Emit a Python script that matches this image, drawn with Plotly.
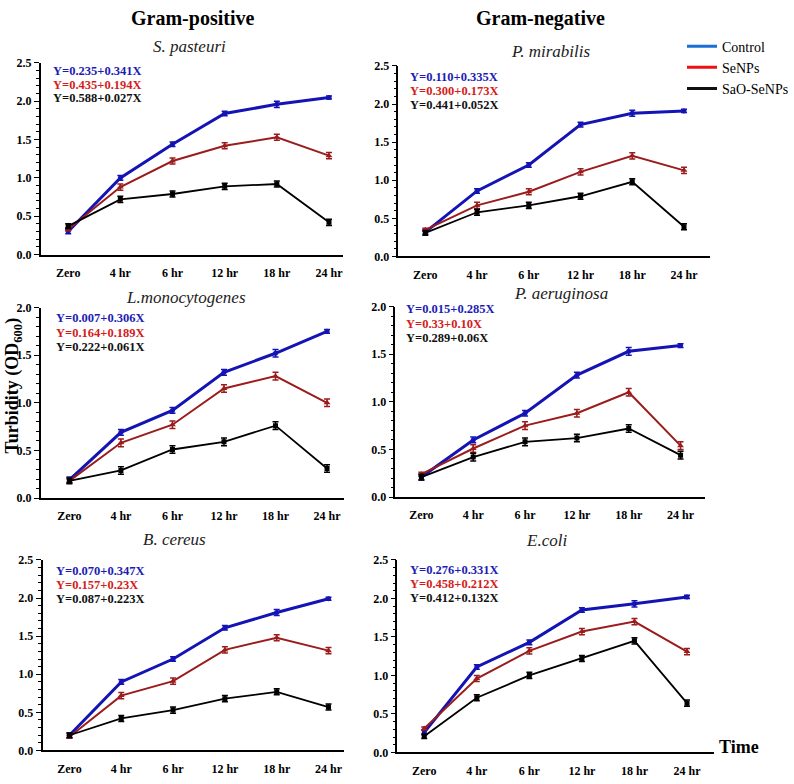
import plotly.graph_objects as go

W, H = 794, 784
FONT = "Liberation Serif"

time_labels = ["Zero", "4 hr", "6 hr", "12 hr", "18 hr", "24 hr"]
series_names = ["Control", "SeNPs", "SaO-SeNPs"]

# Panel titles
titles = ["S. pasteuri", "P. mirabilis", "L.monocytogenes", "P. aeruginosa", "B. cereus", "E.coli"]

# Values (OD600)
sp_control = [0.30, 1.00, 1.44, 1.84, 1.96, 2.05]
sp_senps = [0.33, 0.88, 1.22, 1.42, 1.53, 1.29]
sp_sao = [0.37, 0.72, 0.79, 0.89, 0.92, 0.42]

pm_control = [0.32, 0.86, 1.20, 1.73, 1.88, 1.91]
pm_senps = [0.35, 0.67, 0.85, 1.11, 1.32, 1.13]
pm_sao = [0.31, 0.58, 0.67, 0.79, 0.98, 0.39]

lm_control = [0.19, 0.69, 0.92, 1.32, 1.52, 1.75]
lm_senps = [0.18, 0.58, 0.77, 1.15, 1.28, 1.00]
lm_sao = [0.18, 0.29, 0.51, 0.59, 0.76, 0.31]

pa_control = [0.21, 0.60, 0.88, 1.28, 1.53, 1.59]
pa_senps = [0.24, 0.51, 0.75, 0.88, 1.10, 0.54]
pa_sao = [0.21, 0.42, 0.58, 0.62, 0.72, 0.44]

bc_control = [0.20, 0.90, 1.20, 1.61, 1.81, 1.99]
bc_senps = [0.18, 0.72, 0.91, 1.32, 1.48, 1.31]
bc_sao = [0.20, 0.42, 0.53, 0.68, 0.77, 0.57]

ec_control = [0.26, 1.11, 1.43, 1.85, 1.93, 2.02]
ec_senps = [0.31, 0.96, 1.32, 1.57, 1.70, 1.31]
ec_sao = [0.21, 0.71, 1.00, 1.22, 1.45, 0.64]

err_control = [0.03, 0.03, 0.03, 0.03, 0.04, 0.02]
err_senps = [0.02, 0.04, 0.04, 0.04, 0.04, 0.04]
err_sao = [0.03, 0.04, 0.04, 0.04, 0.04, 0.04]

equations = [
    ["Y=0.235+0.341X", "Y=0.435+0.194X", "Y=0.588+0.027X"],
    ["Y=0.110+0.335X", "Y=0.300+0.173X", "Y=0.441+0.052X"],
    ["Y=0.007+0.306X", "Y=0.164+0.189X", "Y=0.222+0.061X"],
    ["Y=0.015+0.285X", "Y=0.33+0.10X", "Y=0.289+0.06X"],
    ["Y=0.070+0.347X", "Y=0.157+0.23X", "Y=0.087+0.223X"],
    ["Y=0.276+0.331X", "Y=0.458+0.212X", "Y=0.412+0.132X"],
]
eq_colors = ["#1c1cb4", "#d41c1c", "#111111"]

panel_data = [
    (sp_control, sp_senps, sp_sao),
    (pm_control, pm_senps, pm_sao),
    (lm_control, lm_senps, lm_sao),
    (pa_control, pa_senps, pa_sao),
    (bc_control, bc_senps, bc_sao),
    (ec_control, ec_senps, ec_sao),
]
y_max = [2.5, 2.5, 2.0, 2.0, 2.5, 2.5]

# Layout geometry in pixels: (x_left, x_right, y_top, y_bottom, cat_range)
geom = [
    (41, 347, 57, 252, [-0.53, 5.27]),
    (403, 718, 60, 254, [-0.52, 5.50]),
    (41, 348, 306, 500, [-0.56, 5.33]),
    (400, 713, 305, 499, [-0.50, 5.47]),
    (43, 348, 563, 757, [-0.52, 5.30]),
    (402, 722, 563, 759, [-0.51, 5.51]),
]
title_pos = [(192, 40), (557, 45), (188, 296), (567, 292), (176, 542), (553, 543)]
eq_pos = [(52, 65, 14), (413, 71, 14.5), (55, 317, 14.5), (409, 308, 14.5), (55, 574, 14.5), (413, 573, 14.5)]

line_colors = ["#1414b4", "#9b1c1c", "#000000"]
line_widths = [3, 2, 1.8]
symbols = ["circle", "triangle-up", "square"]
marker_sizes = [5, 6, 5]
errs = [err_control, err_senps, err_sao]

fig = go.Figure()

def px_x(p):
    return p / W

def px_y(p):
    return 1 - p / H

annotations = []
for i in range(6):
    ax = "" if i == 0 else str(i + 1)
    for s in range(3):
        fig.add_trace(go.Scatter(
            x=list(range(6)), y=panel_data[i][s], mode="lines+markers",
            line=dict(color=line_colors[s], width=line_widths[s]),
            marker=dict(symbol=symbols[s], size=marker_sizes[s], color=line_colors[s]),
            error_y=dict(type="data", array=errs[s], color=line_colors[s], thickness=1.5, width=3),
            xaxis="x" + ax, yaxis="y" + ax, showlegend=False, name=series_names[s],
        ))
    xl, xr, yt, yb, cr = geom[i]
    fig.layout["xaxis" + ax] = dict(
        domain=[px_x(xl), px_x(xr)], anchor="y" + ax, range=cr,
        tickmode="array", tickvals=list(range(6)), ticktext=time_labels,
        showline=True, linecolor="black", linewidth=1.5, showgrid=False, zeroline=False,
        ticks="outside", ticklen=6, tickcolor="rgba(0,0,0,0)",
        tickfont=dict(family=FONT, size=12, color="black", weight="bold"),
    )
    fig.layout["yaxis" + ax] = dict(
        domain=[px_y(yb), px_y(yt)], anchor="x" + ax, range=[0, y_max[i]],
        dtick=0.5, tickformat=".1f",
        showline=True, linecolor="black", linewidth=1.5, showgrid=False, zeroline=False,
        ticks="outside", ticklen=5, tickcolor="black",
        minor=dict(dtick=0.1, ticks="outside", ticklen=3, tickcolor="black", showgrid=False),
        tickfont=dict(family=FONT, size=12, color="black", weight="bold"),
    )
    tx, ty = title_pos[i]
    annotations.append(dict(
        text=titles[i], x=px_x(tx), y=px_y(ty), xref="paper", yref="paper",
        xanchor="center", yanchor="middle", showarrow=False,
        font=dict(family=FONT, size=17, color="#222222", style="italic"),
    ))
    ex, ey, dy = eq_pos[i]
    for s in range(3):
        annotations.append(dict(
            text=equations[i][s], x=px_x(ex), y=px_y(ey + s * dy), xref="paper", yref="paper",
            xanchor="left", yanchor="middle", showarrow=False,
            font=dict(family=FONT, size=12.5, color=eq_colors[s], weight="bold"),
        ))

# Legend entries
legend_colors = ["#1a6fd4", "#ee1111", "#111111"]
for s in range(3):
    fig.add_trace(go.Scatter(
        x=[None], y=[None], mode="lines", name=series_names[s],
        line=dict(color=legend_colors[s], width=3), showlegend=True,
    ))

annotations += [
    dict(text="Gram-positive", x=px_x(195), y=px_y(12), xref="paper", yref="paper",
         showarrow=False, xanchor="center", yanchor="middle",
         font=dict(family=FONT, size=20, color="black", weight="bold")),
    dict(text="Gram-negative", x=px_x(547), y=px_y(12), xref="paper", yref="paper",
         showarrow=False, xanchor="center", yanchor="middle",
         font=dict(family=FONT, size=20, color="black", weight="bold")),
    dict(text="Turbidity (OD<sub>600</sub>)", x=0, y=px_y(386), xref="paper", yref="paper",
         showarrow=False, xanchor="left", yanchor="middle", textangle=-90,
         font=dict(family=FONT, size=18, color="black", weight="bold")),
    dict(text="Time", x=px_x(747), y=px_y(753), xref="paper", yref="paper",
         showarrow=False, xanchor="center", yanchor="middle",
         font=dict(family=FONT, size=18, color="black", weight="bold")),
]

fig.update_layout(
    width=W, height=H, margin=dict(l=0, r=0, t=0, b=0),
    paper_bgcolor="white", plot_bgcolor="white",
    font=dict(family=FONT),
    annotations=annotations,
    legend=dict(x=px_x(690), y=px_y(24), xanchor="left", yanchor="top",
                font=dict(family=FONT, size=14, color="black"),
                bgcolor="rgba(0,0,0,0)", tracegroupgap=0, itemwidth=30),
)

fig.write_html("out.html")
